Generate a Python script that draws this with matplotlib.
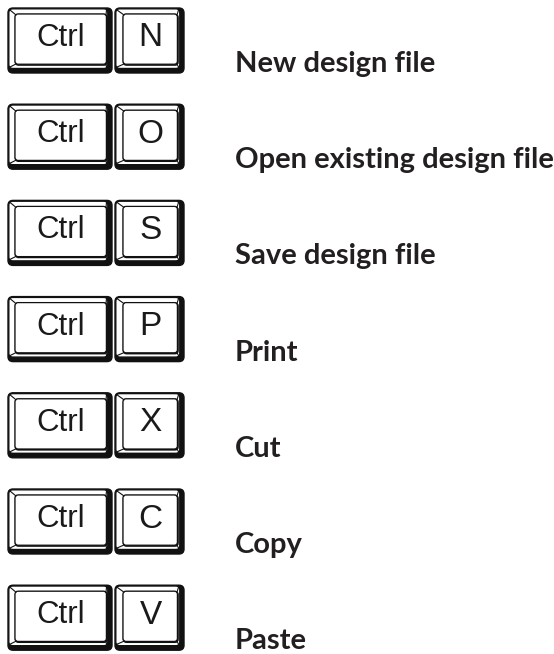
import numpy as np
import matplotlib.pyplot as plt
from matplotlib.patches import FancyBboxPatch

keys = ["N", "O", "S", "P", "X", "C", "V"]
labels = ["New design file", "Open existing design file", "Save design file",
          "Print", "Cut", "Copy", "Paste"]
modifier = "Ctrl"

W, H = 554, 654
fig = plt.figure(figsize=(W / 100, H / 100), dpi=100)
ax = fig.add_axes([0, 0, 1, 1])
ax.set_xlim(0, W)
ax.set_ylim(H, 0)
ax.axis("off")


def rbox(x0, y0, x1, y1, r, **kw):
    p = FancyBboxPatch((x0 + r, y0 + r), (x1 - x0) - 2 * r, (y1 - y0) - 2 * r,
                       boxstyle="round,pad=%f" % r, **kw)
    ax.add_patch(p)


def draw_key(x0, y0, x1, y1, text, inset_l=7, inset_r=5, inset_t=6, inset_b=8):
    # dark shadow body
    rbox(x0, y0, x1, y1, 5, facecolor="#111111", edgecolor="#111111", lw=1)
    # light bevel
    rbox(x0 + 0.8, y0 + 0.8, x1 - 4.2, y1 - 4.5, 4, facecolor="white",
         edgecolor="#111111", lw=1.0)
    ix0, iy0, ix1, iy1 = x0 + inset_l, y0 + inset_t, x1 - inset_r, y1 - inset_b
    # corner bevel lines
    for (ax_, ay_), (bx, by) in [((x0 + 2, y0 + 2), (ix0 + 1, iy0 + 1)),
                                 ((x1 - 5.5, y0 + 2), (ix1 - 1, iy0 + 1)),
                                 ((x0 + 2, y1 - 6), (ix0 + 1, iy1 - 1)),
                                 ((x1 - 5.5, y1 - 6), (ix1 - 1, iy1 - 1))]:
        ax.plot([ax_, bx], [ay_, by], color="#111111", lw=0.8,
                solid_capstyle="round")
    # key face
    rbox(ix0 + 0.5, iy0 + 0.5, ix1, iy1, 3, facecolor="#333333",
         edgecolor="#111111", lw=1.2)
    rbox(ix0, iy0, ix1 - 0.6, iy1 - 0.8, 3, facecolor="white",
         edgecolor="#111111", lw=0.9)
    ax.text((ix0 + ix1) / 2, (iy0 + iy1) / 2 - 1.5, text, ha="center",
            va="center", fontsize=22.5 if len(text) > 1 else 24,
            family="Liberation Sans", color="#1a1a1a")


top0 = 8
step = 96.2
kh = 65
for i, (k, lab) in enumerate(zip(keys, labels)):
    y0 = top0 + i * step
    y1 = y0 + kh
    draw_key(8, y0, 112, y1, modifier)
    draw_key(115, y0, 184, y1, k, inset_l=8, inset_r=6)
    ax.text(235, y1 - 1, lab, ha="left", va="baseline", fontsize=21,
            family="Lato", fontweight="bold", color="#231f20")

fig.savefig("out.png", dpi=100)
